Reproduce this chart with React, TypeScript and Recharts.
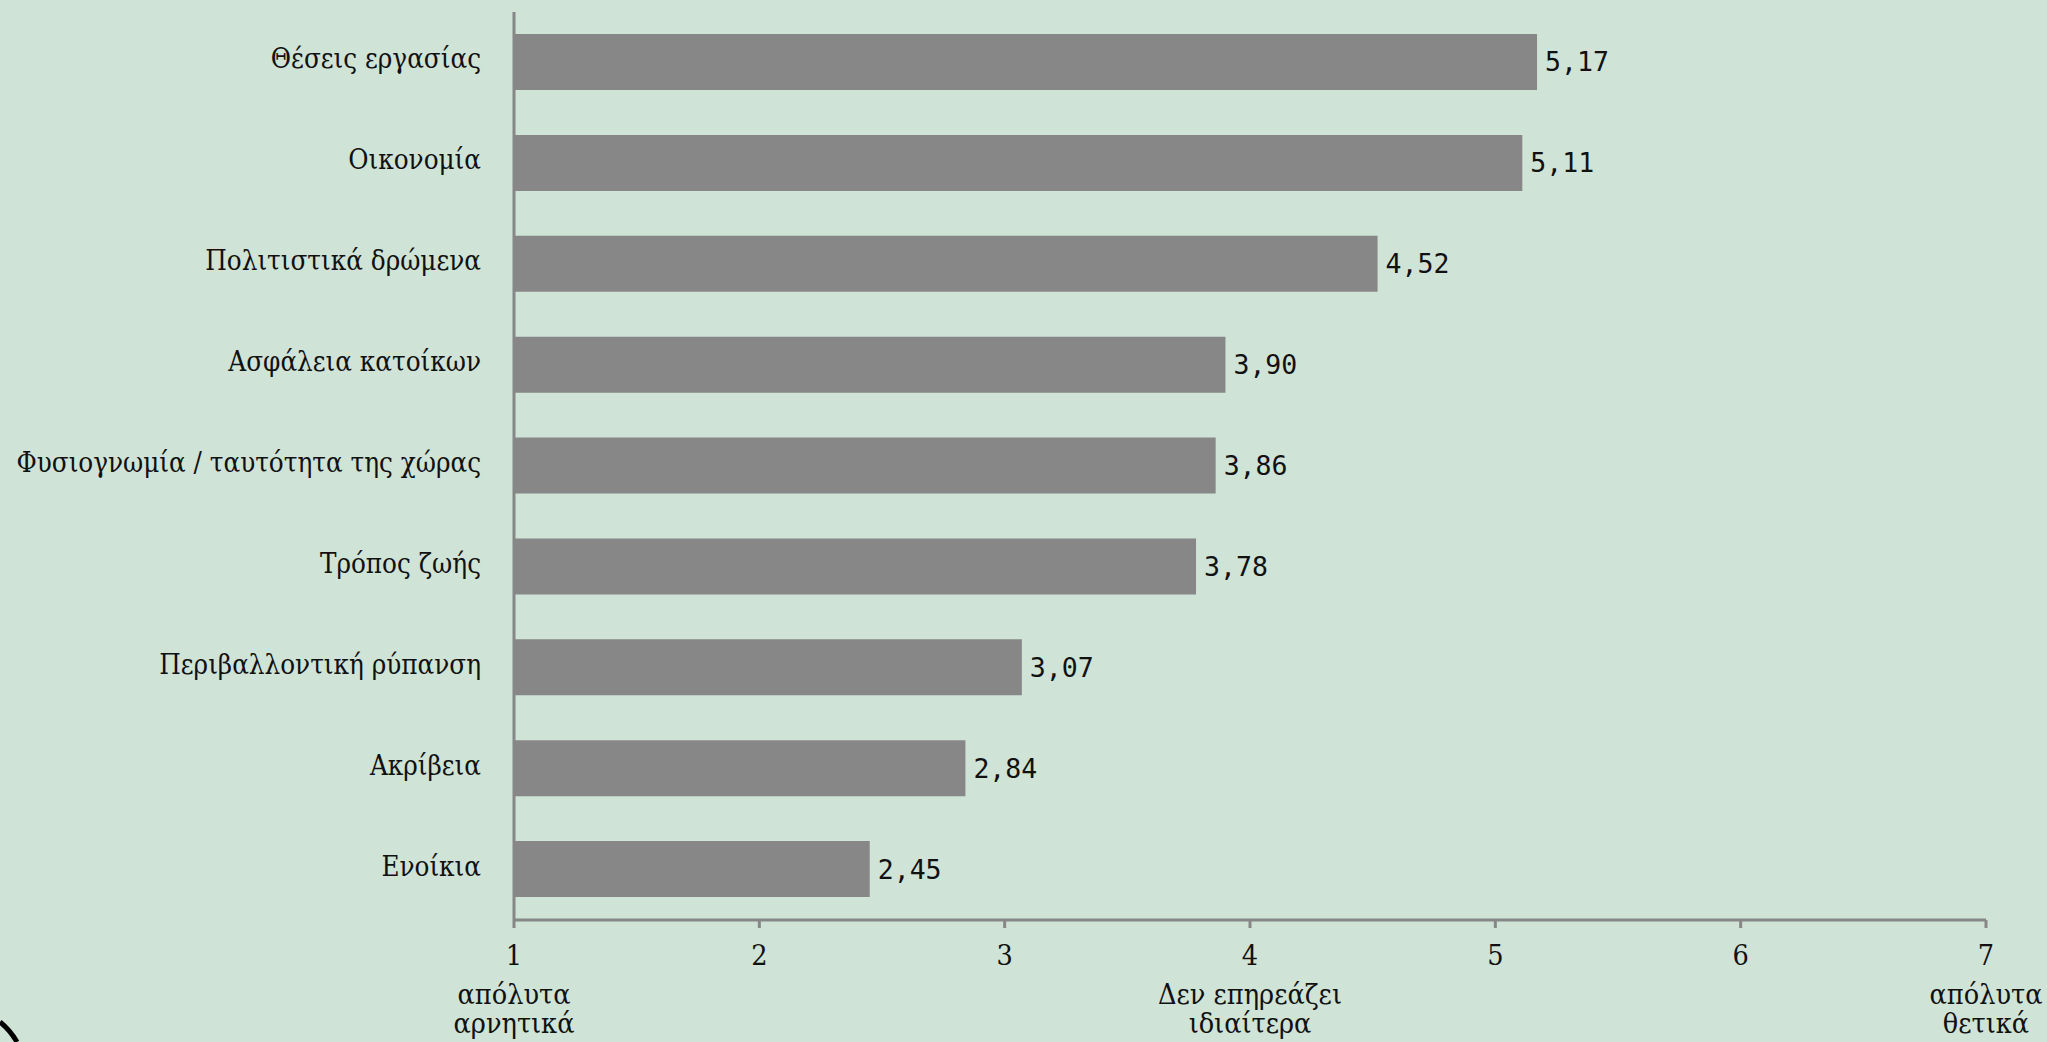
import { BarChart, Bar, XAxis, YAxis, LabelList } from "recharts";

const categories = [
  "Θέσεις εργασίας",
  "Οικονομία",
  "Πολιτιστικά δρώμενα",
  "Ασφάλεια κατοίκων",
  "Φυσιογνωμία / ταυτότητα της χώρας",
  "Τρόπος ζωής",
  "Περιβαλλοντική ρύπανση",
  "Ακρίβεια",
  "Ενοίκια",
];
const scores = [5.17, 5.11, 4.52, 3.9, 3.86, 3.78, 3.07, 2.84, 2.45];
const scaleTicks = [1, 2, 3, 4, 5, 6, 7];
const scaleNotes: Record<number, string[]> = {
  1: ["απόλυτα", "αρνητικά"],
  4: ["Δεν επηρεάζει", "ιδιαίτερα"],
  7: ["απόλυτα", "θετικά"],
};

const data = categories.map((name, i) => ({ name, score: scores[i] }));

const SERIF = "'DejaVu Serif Condensed', 'DejaVu Serif', serif";
const MONO = "'DejaVu Sans Mono', monospace";

function ScaleTick({ x, y, payload }: any) {
  const notes = scaleNotes[payload.value] ?? [];
  return (
    <text
      x={x}
      y={y}
      textAnchor="middle"
      fontFamily={SERIF}
      fontSize={28.5}
      fill="#111"
    >
      <tspan x={x} dy={35}>
        {payload.value}
      </tspan>
      {notes.map((line, i) => (
        <tspan key={i} x={x} dy={i === 0 ? 39 : 29}>
          {line}
        </tspan>
      ))}
    </text>
  );
}

function CategoryTick({ x, y, payload }: any) {
  return (
    <text
      x={x - 25}
      y={y}
      dy={6}
      textAnchor="end"
      fontFamily={SERIF}
      fontSize={27.5}
      fill="#111"
    >
      {payload.value}
    </text>
  );
}

export default function App() {
  return (
    <div style={{ width: 2047, height: 1042, background: "#CFE3D7", position: "relative" }}>
      <style>{`body{margin:0}`}</style>
      <BarChart
        width={2047}
        height={1042}
        data={data}
        layout="vertical"
        margin={{ top: 12, right: 61, bottom: 0, left: 0 }}
      >
        <XAxis
          type="number"
          domain={[1, 7]}
          ticks={scaleTicks}
          interval={0}
          height={122}
          stroke="#878787"
          strokeWidth={3}
          tickSize={8}
          tick={<ScaleTick />}
          allowDataOverflow
        />
        <YAxis
          type="category"
          dataKey="name"
          width={514}
          stroke="#878787"
          strokeWidth={3}
          tickLine={false}
          tick={<CategoryTick />}
          interval={0}
        />
        <Bar dataKey="score" fill="#878787" barSize={56} isAnimationActive={false}>
          <LabelList
            dataKey="score"
            position="right"
            offset={8}
            formatter={(v: any) => Number(v).toFixed(2).replace(".", ",")}
            style={{ fontFamily: MONO, fontSize: 26.5, fill: "#111" }}
          />
        </Bar>
      </BarChart>
      <svg
        width={40}
        height={40}
        style={{ position: "absolute", left: 0, top: 1002 }}
      >
        <path d="M 0 20 Q 10 28 17 40" stroke="#000" strokeWidth={5} fill="none" />
      </svg>
    </div>
  );
}
